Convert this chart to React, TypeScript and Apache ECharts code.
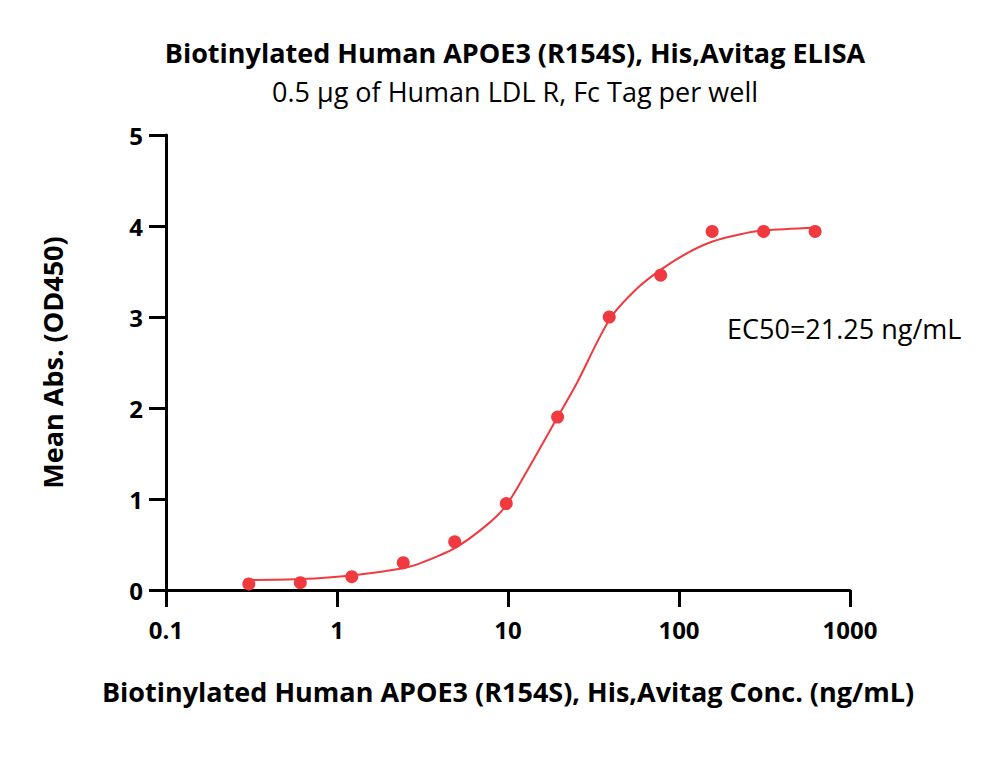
import React, { useEffect, useRef } from "react";
import * as echarts from "echarts";

const conc = [0.305, 0.61, 1.22, 2.44, 4.88, 9.77, 19.5, 39.1, 78.1, 156.25, 312.5, 625];
const meanAbs = [0.066, 0.08, 0.146, 0.30, 0.53, 0.95, 1.90, 3.00, 3.46, 3.94, 3.94, 3.94];

// fitted curve
const curveX = [0.305, 0.61, 1.22, 2.44, 3.03, 4.88, 7.47, 9.77, 13.4, 19.5, 25.2, 39.5, 56.6, 78.3, 111, 157, 229, 312, 625];
const curveY = [0.11, 0.12, 0.16, 0.24, 0.29, 0.46, 0.71, 0.93, 1.36, 1.90, 2.27, 2.98, 3.31, 3.52, 3.70, 3.83, 3.91, 3.95, 3.98];

const xTicks = ["0.1", "1", "10", "100", "1000"];
const yTicks = ["0", "1", "2", "3", "4", "5"];

const titleText = "Biotinylated Human APOE3 (R154S), His,Avitag ELISA";
const subtitleText = "0.5 µg of Human LDL R, Fc Tag per well";
const xName = "Biotinylated Human APOE3 (R154S), His,Avitag Conc. (ng/mL)";
const yName = "Mean Abs. (OD450)";
const ec50Text = "EC50=21.25 ng/mL";

const FONT = "'Open Sans', sans-serif";
const RED = "#F03A3F";

export default function App() {
  const ref = useRef<HTMLDivElement>(null);
  useEffect(() => {
    if (!ref.current) return;
    const chart = echarts.init(ref.current, null, { renderer: "svg" });
    chart.setOption({
      animation: false,
      backgroundColor: "#ffffff",
      textStyle: { fontFamily: FONT },
      title: [
        {
          text: titleText,
          left: 510,
          top: 34,
          textAlign: "center",
          textStyle: { fontFamily: FONT, fontSize: 27, fontWeight: "bold", color: "#000" },
        },
        {
          text: subtitleText,
          left: 510,
          top: 73,
          textAlign: "center",
          textStyle: { fontFamily: FONT, fontSize: 27, fontWeight: "normal", color: "#000" },
        },
      ],
      grid: { left: 166, right: 150, top: 135, bottom: 193, containLabel: false },
      xAxis: {
        type: "log",
        logBase: 10,
        min: 0.1,
        max: 1000,
        name: xName,
        nameLocation: "middle",
        nameGap: 88,
        nameTextStyle: { fontFamily: FONT, fontSize: 27, fontWeight: "bold", color: "#000" },
        axisLine: { show: true, onZero: false, lineStyle: { color: "#000", width: 3 } },
        axisTick: { show: true, length: 17, lineStyle: { color: "#000", width: 3 } },
        minorTick: { show: false },
        splitLine: { show: false },
        axisLabel: {
          margin: 27,
          fontFamily: FONT,
          fontSize: 24,
          fontWeight: "bold",
          color: "#000",
          formatter: (v: number) => {
            const i = Math.round(Math.log10(v)) + 1;
            return xTicks[i] ?? "";
          },
        },
      },
      yAxis: {
        type: "value",
        min: 0,
        max: 5,
        interval: 1,
        name: yName,
        nameLocation: "middle",
        nameGap: 100,
        nameTextStyle: { fontFamily: FONT, fontSize: 27, fontWeight: "bold", color: "#000" },
        axisLine: { show: true, lineStyle: { color: "#000", width: 3 } },
        axisTick: { show: true, length: 17, lineStyle: { color: "#000", width: 3 } },
        splitLine: { show: false },
        axisLabel: {
          margin: 23,
          fontFamily: FONT,
          fontSize: 24,
          fontWeight: "bold",
          color: "#000",
          formatter: (v: number) => yTicks[Math.round(v)] ?? "",
        },
      },
      series: [
        {
          type: "line",
          data: curveX.map((x, i) => [x, curveY[i]]),
          smooth: 0.3,
          showSymbol: false,
          symbol: "none",
          lineStyle: { color: RED, width: 2 },
          z: 2,
        },
        {
          type: "scatter",
          data: conc.map((x, i) => [x, meanAbs[i]]),
          symbol: "circle",
          symbolSize: 13,
          itemStyle: { color: RED, opacity: 1 },
          z: 3,
        },
      ],
      graphic: [
        {
          type: "text",
          left: 727,
          top: 315,
          style: { text: ec50Text, fontFamily: FONT, fontSize: 27, fill: "#000" },
        },
      ],
    });
    return () => chart.dispose();
  }, []);
  return (
    <div
      ref={ref}
      style={{ position: "fixed", left: 0, top: 0, width: 1000, height: 783, background: "#fff" }}
    />
  );
}
